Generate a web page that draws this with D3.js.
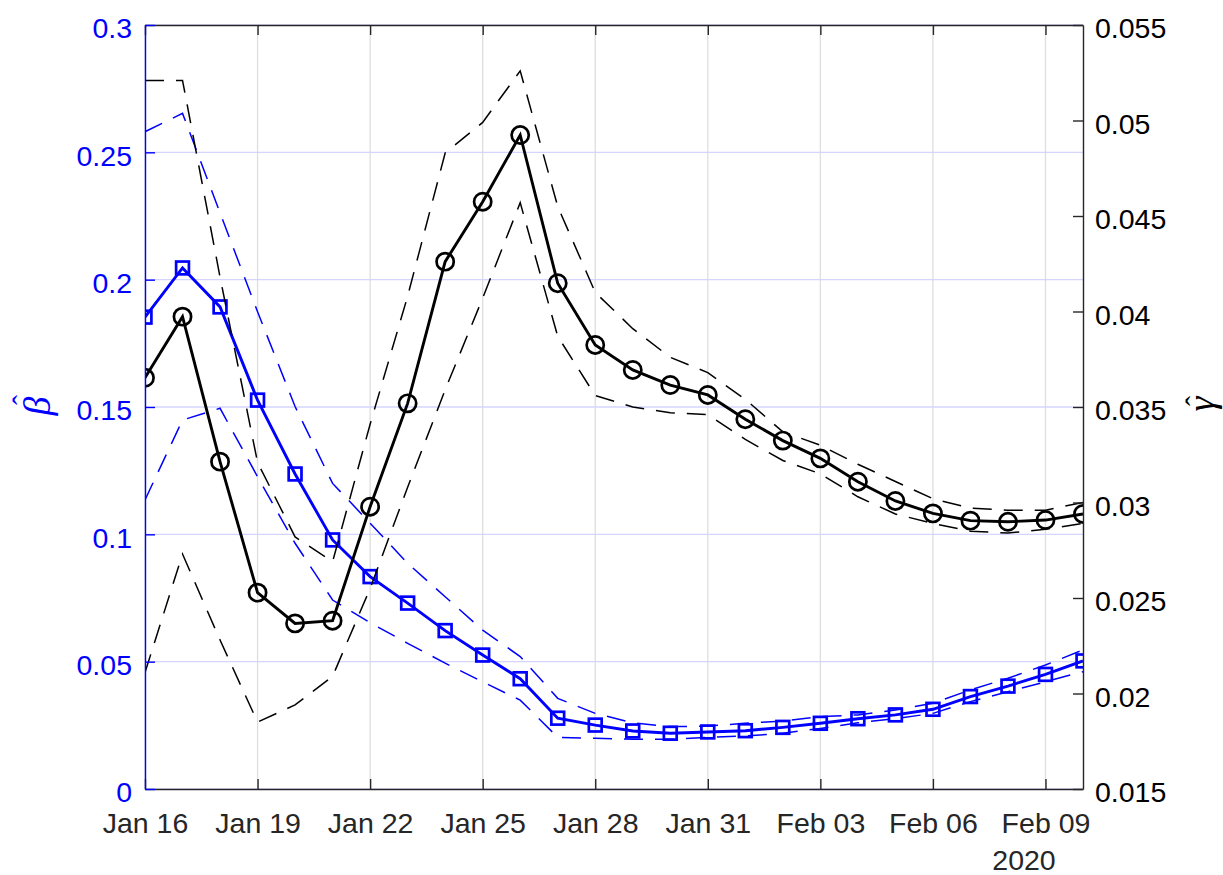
<!DOCTYPE html>
<html><head><meta charset="utf-8">
<script src="https://cdn.jsdelivr.net/npm/d3@7"></script>
<style>body{margin:0;background:#fff}</style>
</head><body>
<svg id="c" width="1223" height="875" xmlns="http://www.w3.org/2000/svg"></svg>
<script>
// ---- data ----
const dates = ["2020-01-16","2020-01-17","2020-01-18","2020-01-19","2020-01-20","2020-01-21","2020-01-22","2020-01-23","2020-01-24","2020-01-25","2020-01-26","2020-01-27","2020-01-28","2020-01-29","2020-01-30","2020-01-31","2020-02-01","2020-02-02","2020-02-03","2020-02-04","2020-02-05","2020-02-06","2020-02-07","2020-02-08","2020-02-09","2020-02-10"];
const beta      = [0.1853,0.2046,0.1893,0.1527,0.1237,0.0978,0.0834,0.0730,0.0622,0.0526,0.0433,0.0278,0.0251,0.0228,0.0219,0.0224,0.0229,0.0242,0.0258,0.0276,0.0291,0.0313,0.0363,0.0404,0.0450,0.0503];
const betaUpper = [0.2581,0.2653,0.2262,0.1874,0.1502,0.1200,0.1044,0.0886,0.0755,0.0624,0.0520,0.0356,0.0297,0.0260,0.0245,0.0247,0.0258,0.0267,0.0284,0.0291,0.0310,0.0337,0.0389,0.0435,0.0487,0.0546];
const betaLower = [0.1135,0.1449,0.1495,0.1226,0.0965,0.0742,0.0653,0.0572,0.0494,0.0421,0.0349,0.0203,0.0199,0.0195,0.0195,0.0203,0.0208,0.0219,0.0238,0.0260,0.0276,0.0297,0.0343,0.0382,0.0421,0.0461];
const gamma      = [0.03653,0.03973,0.03214,0.02528,0.02367,0.02381,0.02978,0.03519,0.04261,0.04575,0.04924,0.04148,0.03825,0.03694,0.03615,0.03563,0.03436,0.03324,0.03231,0.03109,0.03008,0.02943,0.02905,0.02899,0.02908,0.02940];
const gammaUpper = [0.0521,0.0521,0.0418,0.0321,0.0282,0.0269,0.0341,0.0408,0.0483,0.0499,0.0526,0.0455,0.0410,0.0391,0.0376,0.0368,0.0354,0.0337,0.0330,0.0320,0.0311,0.0302,0.0297,0.0296,0.0296,0.0300];
const gammaLower = [0.0211,0.0273,0.0228,0.0185,0.0194,0.0209,0.0255,0.0308,0.0359,0.0407,0.0457,0.0387,0.0356,0.0350,0.0347,0.0346,0.0333,0.0322,0.0315,0.0303,0.0294,0.0289,0.0285,0.0284,0.0286,0.0289];
const xTickDates  = ["2020-01-16","2020-01-19","2020-01-22","2020-01-25","2020-01-28","2020-01-31","2020-02-03","2020-02-06","2020-02-09"];
const xTickLabels = ["Jan 16","Jan 19","Jan 22","Jan 25","Jan 28","Jan 31","Feb 03","Feb 06","Feb 09"];
const leftTicks  = [0,0.05,0.1,0.15,0.2,0.25,0.3];
const leftTickLabels = ["0","0.05","0.1","0.15","0.2","0.25","0.3"];
const rightTicks = [0.015,0.02,0.025,0.03,0.035,0.04,0.045,0.05,0.055];
const rightTickLabels = ["0.015","0.02","0.025","0.03","0.035","0.04","0.045","0.05","0.055"];
const yearLabel = "2020";
const leftLabel = "\u03B2", rightLabel = "\u03B3", hatChar = "\u02C6";

// ---- layout ----
const L = 145, R = 1083, T = 25, B = 789;
const FONT = "'Liberation Sans', Arial, Helvetica, sans-serif";
const SERIF = "'Liberation Serif', 'DejaVu Serif', serif";
const FS = 28.5;
const BLUE = "#0000ff", DARK = "#262626";

const parse = d3.timeParse("%Y-%m-%d");
const xd = dates.map(parse);
const x = d3.scaleTime().domain([xd[0], xd[xd.length-1]]).range([L, R]);
const yL = d3.scaleLinear().domain([0, 0.3]).range([B, T]);
const yR = d3.scaleLinear().domain([0.015, 0.055]).range([B, T]);

const svg = d3.select("#c");
svg.append("rect").attr("width",1223).attr("height",875).attr("fill","#fff");

// grid
const tickD = xTickDates.map(parse);
svg.append("g").selectAll("line").data(tickD).join("line")
  .attr("x1", d => x(d)).attr("x2", d => x(d)).attr("y1", T).attr("y2", B)
  .attr("stroke", "#dedede").attr("stroke-width", 1.3);
svg.append("g").selectAll("line").data(leftTicks).join("line")
  .attr("x1", L).attr("x2", R).attr("y1", d => yL(d)).attr("y2", d => yL(d))
  .attr("stroke", "#d4d4ff").attr("stroke-width", 1.3);

// clip
svg.append("defs").append("clipPath").attr("id","clip")
  .append("rect").attr("x", L).attr("y", T).attr("width", R-L).attr("height", B-T);
const plot = svg.append("g").attr("clip-path","url(#clip)");

function drawLine(vals, yScale, color, width, dash) {
  const line = d3.line().x((d,i) => x(xd[i])).y(d => yScale(d));
  plot.append("path").datum(vals).attr("d", line)
    .attr("fill","none").attr("stroke", color).attr("stroke-width", width)
    .attr("stroke-dasharray", dash || null).attr("stroke-linejoin","miter");
}

// beta (left)
drawLine(betaUpper, yL, BLUE, 1.5, "19,12");
drawLine(betaLower, yL, BLUE, 1.5, "19,12");
drawLine(beta, yL, BLUE, 2.9);
plot.append("g").selectAll("rect").data(beta).join("rect")
  .attr("x", (d,i) => x(xd[i]) - 6.4).attr("y", d => yL(d) - 6.4)
  .attr("width", 12.8).attr("height", 12.8)
  .attr("fill","none").attr("stroke", BLUE).attr("stroke-width", 2.7);

// gamma (right)
drawLine(gammaUpper, yR, "#000", 1.5, "19,12");
drawLine(gammaLower, yR, "#000", 1.5, "19,12");
drawLine(gamma, yR, "#000", 2.9);
plot.append("g").selectAll("circle").data(gamma).join("circle")
  .attr("cx", (d,i) => x(xd[i])).attr("cy", d => yR(d)).attr("r", 8.6)
  .attr("fill","none").attr("stroke","#000").attr("stroke-width", 2.7);

// axes
function styleAxis(g, color, labelColor) {
  g.select(".domain").attr("stroke", color).attr("stroke-width", 1.4);
  g.selectAll(".tick line").attr("stroke", color).attr("stroke-width", 1.4);
  g.selectAll(".tick text").attr("fill", labelColor).attr("font-family", FONT).attr("font-size", FS);
}
const gb = svg.append("g").attr("transform", `translate(0,${B})`)
  .call(d3.axisBottom(x).tickValues(tickD).tickFormat((d,i) => xTickLabels[i])
        .tickSizeInner(-10).tickSizeOuter(0).tickPadding(24));
styleAxis(gb, DARK, DARK);
const gt = svg.append("g").attr("transform", `translate(0,${T})`)
  .call(d3.axisTop(x).tickValues(tickD).tickFormat("").tickSizeInner(-10).tickSizeOuter(0));
styleAxis(gt, DARK, DARK);
const gl = svg.append("g").attr("transform", `translate(${L},0)`)
  .call(d3.axisLeft(yL).tickValues(leftTicks).tickFormat((d,i) => leftTickLabels[i])
        .tickSizeInner(-10).tickSizeOuter(0).tickPadding(13));
styleAxis(gl, BLUE, BLUE);
gl.selectAll(".tick text").attr("dy", "0.45em");
const gr = svg.append("g").attr("transform", `translate(${R},0)`)
  .call(d3.axisRight(yR).tickValues(rightTicks).tickFormat((d,i) => rightTickLabels[i])
        .tickSizeInner(-10).tickSizeOuter(0).tickPadding(12));
styleAxis(gr, DARK, "#000");
gr.selectAll(".tick text").attr("dy", "0.45em");

// year label
svg.append("text").attr("x", 1024).attr("y", 870).attr("text-anchor","middle")
  .attr("font-family", FONT).attr("font-size", FS).attr("fill", DARK).text(yearLabel);

// y labels (rotated), with hat accents
const lg = svg.append("g").attr("transform","translate(50,406) rotate(-90)").attr("fill", BLUE)
  .attr("font-family", SERIF).attr("font-style","italic");
lg.append("text").attr("text-anchor","middle").attr("font-size", 38).text(leftLabel);
lg.append("text").attr("x", 6).attr("y", -17).attr("text-anchor","middle").attr("font-size", 30)
  .attr("font-style","normal").text(hatChar);

const rg = svg.append("g").attr("transform","translate(1214,404) rotate(-90)").attr("fill", "#000")
  .attr("font-family", SERIF).attr("font-style","italic");
rg.append("text").attr("text-anchor","middle").attr("font-size", 38).text(rightLabel);
rg.append("text").attr("x", 3).attr("y", -8).attr("text-anchor","middle").attr("font-size", 30)
  .attr("font-style","normal").text(hatChar);
</script>
</body></html>
